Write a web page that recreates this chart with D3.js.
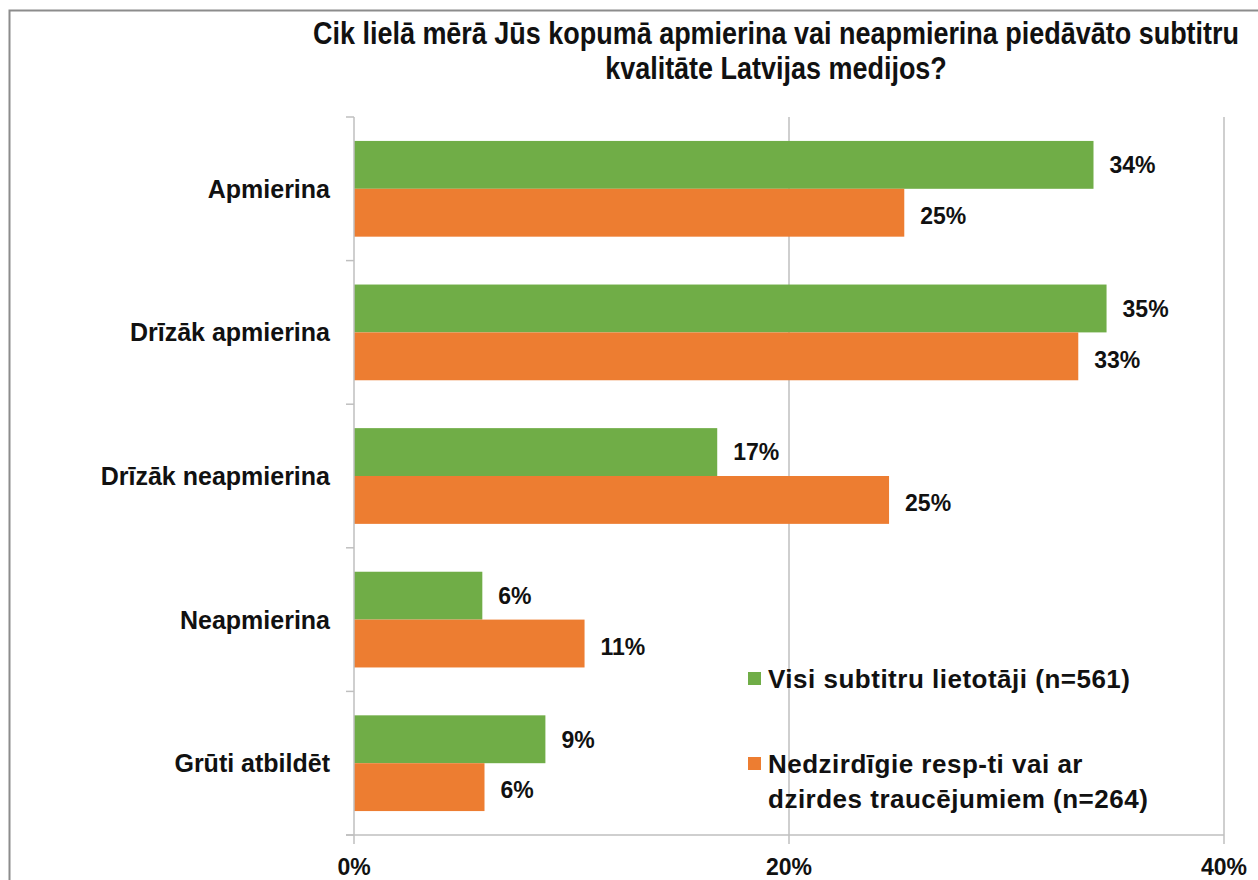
<!DOCTYPE html>
<html>
<head>
<meta charset="utf-8">
<script src="https://cdn.jsdelivr.net/npm/d3@7"></script>
<style>
  body { margin: 0; background: #fff; }
  svg { display: block; font-family: "Liberation Sans", Arial, sans-serif; }
</style>
</head>
<body>
<svg id="chart" width="1258" height="880"></svg>
<script>
// chart data
const categories = ["Apmierina", "Drīzāk apmierina", "Drīzāk neapmierina", "Neapmierina", "Grūti atbildēt"];
const seriesNames = ["Visi subtitru lietotāji (n=561)", "Nedzirdīgie resp-ti vai ar dzirdes traucējumiem (n=264)"];
const allUsers = [0.340, 0.346, 0.167, 0.059, 0.088];
const deafUsers = [0.253, 0.333, 0.246, 0.106, 0.060];
const valueLabels = [["34%", "35%", "17%", "6%", "9%"], ["25%", "33%", "25%", "11%", "6%"]];
const xTicks = [0, 0.2, 0.4];
const titleLines = ["Cik lielā mērā Jūs kopumā apmierina vai neapmierina piedāvāto subtitru", "kvalitāte Latvijas medijos?"];
const colors = ["#70ad47", "#ed7d31"];

const svg = d3.select("#chart");
const plot = { left: 354, right: 1224, top: 117, bottom: 835 };

// outer frame (right/bottom edges run off the picture)
svg.append("rect")
  .attr("x", 9.5).attr("y", 10.5)
  .attr("width", 1300).attr("height", 900)
  .attr("fill", "none").attr("stroke", "#8c8c8c").attr("stroke-width", 2);

const x = d3.scaleLinear().domain([0, 0.4]).range([plot.left, plot.right]);
const y0 = d3.scaleBand().domain(categories).range([plot.top, plot.bottom]).padding(0);
const y1 = d3.scaleBand().domain([0, 1]).range([0, y0.bandwidth()]).paddingOuter(0.5).paddingInner(0);

// gridlines (extend below axis as tick marks)
svg.append("g").selectAll("line")
  .data(xTicks.filter(d => d > 0))
  .join("line")
  .attr("x1", d => x(d)).attr("x2", d => x(d))
  .attr("y1", plot.top).attr("y2", plot.bottom + 9)
  .attr("stroke", "#bfbfbf").attr("stroke-width", 1.5);

// bars
const rows = categories.map((c, i) => ({ cat: c, vals: [allUsers[i], deafUsers[i]], i }));
const groups = svg.append("g").selectAll("g")
  .data(rows)
  .join("g")
  .attr("transform", d => `translate(0,${y0(d.cat)})`);

groups.selectAll("rect")
  .data(d => d.vals.map((v, s) => ({ v, s, i: d.i })))
  .join("rect")
  .attr("x", x(0))
  .attr("y", d => y1(d.s))
  .attr("width", d => x(d.v) - x(0))
  .attr("height", y1.bandwidth())
  .attr("fill", d => colors[d.s]);

groups.selectAll("text")
  .data(d => d.vals.map((v, s) => ({ v, s, i: d.i })))
  .join("text")
  .attr("x", d => x(d.v) + 16)
  .attr("y", d => y1(d.s) + y1.bandwidth() / 2 + (d.s ? 3 : 0))
  .attr("dy", "0.36em")
  .attr("font-size", 23)
  .attr("font-weight", "bold")
  .attr("fill", "#111")
  .text(d => valueLabels[d.s][d.i]);

// left axis
const yAxis = svg.append("g");
yAxis.append("line")
  .attr("x1", plot.left).attr("x2", plot.left)
  .attr("y1", plot.top).attr("y2", plot.bottom + 9)
  .attr("stroke", "#bfbfbf").attr("stroke-width", 1.5);
yAxis.selectAll("line.tick")
  .data(d3.range(categories.length + 1))
  .join("line")
  .attr("class", "tick")
  .attr("x1", plot.left - 8).attr("x2", plot.left)
  .attr("y1", d => plot.top + d * y0.step())
  .attr("y2", d => plot.top + d * y0.step())
  .attr("stroke", "#bfbfbf").attr("stroke-width", 1.5);
yAxis.selectAll("text")
  .data(categories)
  .join("text")
  .attr("x", 330)
  .attr("y", d => y0(d) + y0.bandwidth() / 2)
  .attr("dy", "0.36em")
  .attr("text-anchor", "end")
  .attr("font-size", 25)
  .attr("font-weight", "bold")
  .attr("fill", "#111")
  .text(d => d);

// bottom axis
const xAxis = svg.append("g");
xAxis.append("line")
  .attr("x1", plot.left - 8).attr("x2", plot.right)
  .attr("y1", plot.bottom).attr("y2", plot.bottom)
  .attr("stroke", "#bfbfbf").attr("stroke-width", 1.5);
xAxis.selectAll("text")
  .data(xTicks)
  .join("text")
  .attr("x", d => x(d))
  .attr("y", 875)
  .attr("text-anchor", "middle")
  .attr("font-size", 23)
  .attr("font-weight", "bold")
  .attr("fill", "#111")
  .text(d3.format(".0%"));

// title (condensed look: scaled horizontally)
const titleScale = 0.87;
svg.append("g")
  .attr("transform", `translate(776,0) scale(${titleScale},1)`)
  .append("text")
  .attr("text-anchor", "middle")
  .attr("font-size", 31)
  .attr("font-weight", "bold")
  .attr("fill", "#111")
  .selectAll("tspan")
  .data(titleLines)
  .join("tspan")
  .attr("x", 0)
  .attr("y", (d, i) => 44 + i * 35)
  .text(d => d);

// legend
const legend = svg.append("g")
  .attr("font-size", 26).attr("font-weight", "bold")
  .attr("letter-spacing", 0.5).attr("fill", "#111");
const legendRows = [
  { s: 0, y: 679, lines: [seriesNames[0]] },
  { s: 1, y: 764, lines: ["Nedzirdīgie resp-ti vai ar", "dzirdes traucējumiem (n=264)"] }
];
legendRows.forEach(r => {
  legend.append("rect")
    .attr("x", 748).attr("y", r.y - 7)
    .attr("width", 13).attr("height", 13)
    .attr("fill", colors[r.s]);
  legend.append("text")
    .selectAll("tspan")
    .data(r.lines)
    .join("tspan")
    .attr("x", 768)
    .attr("y", (d, i) => r.y + i * 35)
    .attr("dy", "0.36em")
    .text(d => d);
});
</script>
</body>
</html>
